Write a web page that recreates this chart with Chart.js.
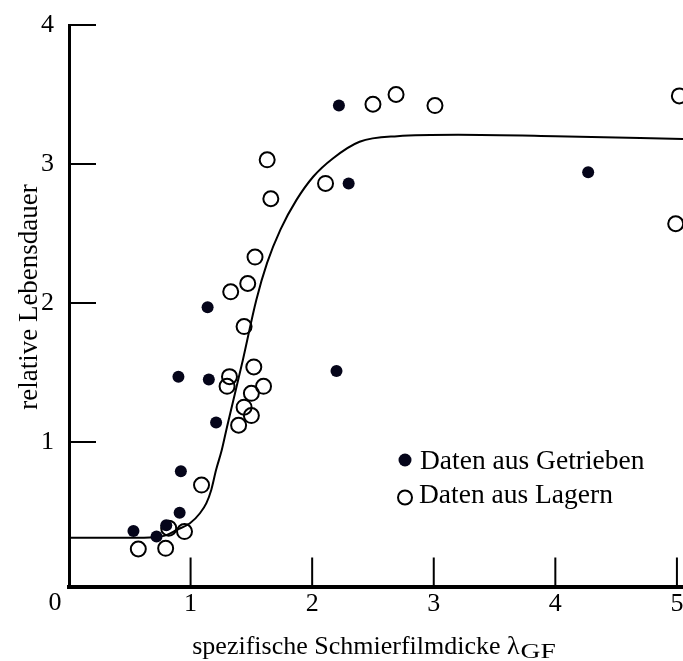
<!DOCTYPE html>
<html>
<head>
<meta charset="utf-8">
<script src="https://cdn.jsdelivr.net/npm/chart.js@4.4.1/dist/chart.umd.min.js"></script>
<style>
  html, body { margin: 0; padding: 0; background: #fff; overflow: hidden; }
  canvas { display: block; }
</style>
</head>
<body>
<canvas id="lebensdauer" width="683" height="661"></canvas>
<script>
Chart.defaults.font.family = "'Liberation Serif', 'Times New Roman', serif";
Chart.defaults.font.size = 26;
Chart.defaults.color = "#000";

// tick values
var xTicks = [1, 2, 3, 4, 5];
var yTicks = [1, 2, 3, 4];

// measured points from gear boxes (filled dots)
var getriebeX = [0.53, 0.72, 0.80, 0.91, 0.92, 0.90, 1.15, 1.14, 1.21, 2.22, 2.30, 2.20, 4.27];
var getriebeY = [0.36, 0.32, 0.40, 0.49, 0.79, 1.47, 1.45, 1.97, 1.14, 3.42, 2.86, 1.51, 2.94];

// measured points from bearings (open circles)
var lagerX = [0.57, 0.795, 0.82, 0.95, 1.09, 1.395, 1.44, 1.50, 1.50, 1.60, 1.30, 1.32, 1.52, 1.44, 1.33, 1.47, 1.53, 1.66, 1.63, 2.11, 2.50, 2.69, 3.01, 5.02, 4.99];
var lagerY = [0.23, 0.235, 0.38, 0.355, 0.69, 1.12, 1.25, 1.19, 1.35, 1.40, 1.40, 1.47, 1.54, 1.83, 2.08, 2.14, 2.33, 2.75, 3.03, 2.86, 3.43, 3.50, 3.42, 3.49, 2.57];

// fitted trend curve
var kurveX = [0, 0.5, 0.7, 0.8, 0.885, 0.995, 1.077, 1.13, 1.17, 1.21, 1.256, 1.30, 1.43, 1.54, 1.63, 1.74, 1.87, 2.01, 2.17, 2.39, 2.7, 3.2, 4.0, 5.05];
var kurveY = [0.31, 0.31, 0.315, 0.33, 0.367, 0.415, 0.487, 0.56, 0.655, 0.80, 0.94, 1.11, 1.59, 2.02, 2.29, 2.53, 2.74, 2.91, 3.04, 3.16, 3.20, 3.21, 3.20, 3.18];

var punktFarbe = "#05051a";

function paare(xs, ys) {
    return xs.map(function (x, i) { return { x: x, y: ys[i] }; });
}

// tick marks pointing into the plot area
var innenStriche = {
    id: "innenStriche",
    afterDraw: function (chart) {
        var ctx = chart.ctx;
        var area = chart.chartArea;
        var sx = chart.scales.x;
        var sy = chart.scales.y;
        ctx.save();
        ctx.strokeStyle = "#000";
        ctx.lineWidth = 2;
        ctx.beginPath();
        xTicks.forEach(function (v) {
            var px = sx.getPixelForValue(v);
            ctx.moveTo(px, area.bottom);
            ctx.lineTo(px, area.bottom - 29);
        });
        yTicks.forEach(function (v) {
            var py = sy.getPixelForValue(v);
            ctx.moveTo(area.left, py);
            ctx.lineTo(area.left + 27, py);
        });
        ctx.stroke();
        ctx.restore();
    }
};

// axis titles, origin label and the inline legend
var beschriftung = {
    id: "beschriftung",
    afterDraw: function (chart) {
        var ctx = chart.ctx;
        var area = chart.chartArea;
        var schrift = "'Liberation Serif', 'Times New Roman', serif";
        ctx.save();
        ctx.fillStyle = "#000";
        ctx.font = "26px " + schrift;
        ctx.textBaseline = "alphabetic";

        ctx.textAlign = "center";
        ctx.fillText("0", area.left - 14, area.bottom + 23);

        ctx.save();
        ctx.font = "27px " + schrift;
        ctx.translate(36.5, 297);
        ctx.rotate(-Math.PI / 2);
        ctx.fillText("relative Lebensdauer", 0, 0);
        ctx.restore();

        // x title with subscript
        var haupt = "spezifische Schmierfilmdicke \u03bb";
        var tief = "GF";
        ctx.textAlign = "left";
        var w1 = ctx.measureText(haupt).width;
        ctx.font = "22px " + schrift;
        var dehnung = 1.25;
        var w2 = ctx.measureText(tief).width * dehnung;
        var x0 = 373.5 - (w1 + w2) / 2;
        ctx.font = "26px " + schrift;
        ctx.fillText(haupt, x0, 654);
        ctx.font = "22px " + schrift;
        ctx.save();
        ctx.translate(x0 + w1 + 1, 658);
        ctx.scale(dehnung, 1);
        ctx.fillText(tief, 0, 0);
        ctx.restore();

        // legend
        var ds = chart.data.datasets;
        ctx.fillStyle = punktFarbe;
        ctx.beginPath();
        ctx.arc(405, 460, 6.5, 0, Math.PI * 2);
        ctx.fill();
        ctx.strokeStyle = "#000";
        ctx.lineWidth = 2;
        ctx.beginPath();
        ctx.arc(405, 497.5, 7, 0, Math.PI * 2);
        ctx.stroke();
        ctx.fillStyle = "#000";
        ctx.font = "27.5px " + schrift;
        ctx.fillText(ds[0].label, 420, 469);
        ctx.fillText(ds[1].label, 419, 503);
        ctx.restore();
    }
};

new Chart(document.getElementById("lebensdauer").getContext("2d"), {
    type: "scatter",
    data: {
        datasets: [{
            label: "Daten aus Getrieben",
            data: paare(getriebeX, getriebeY),
            pointRadius: 6,
            pointBackgroundColor: punktFarbe,
            pointBorderWidth: 0,
            order: 0
        }, {
            label: "Daten aus Lagern",
            data: paare(lagerX, lagerY),
            pointRadius: 7.5,
            pointBackgroundColor: "rgba(0,0,0,0)",
            pointBorderColor: "#000",
            pointBorderWidth: 2,
            order: 1
        }, {
            label: "Trend",
            type: "line",
            data: paare(kurveX, kurveY),
            showLine: true,
            pointRadius: 0,
            borderColor: "#000",
            borderWidth: 2,
            fill: false,
            cubicInterpolationMode: "monotone",
            order: 2
        }]
    },
    options: {
        responsive: false,
        animation: false,
        events: [],
        layout: {
            autoPadding: false,
            padding: { top: 25, right: 0, bottom: 0, left: 0 }
        },
        plugins: {
            legend: { display: false },
            tooltip: { enabled: false }
        },
        scales: {
            x: {
                type: "linear",
                min: 0,
                max: 5.05,
                afterFit: function (s) {
                    s.height = 74.5;
                    s.paddingLeft = 0;
                    s.paddingRight = 0;
                },
                afterBuildTicks: function (s) {
                    s.ticks = xTicks.map(function (v) { return { value: v }; });
                },
                grid: {
                    display: true,
                    drawOnChartArea: false,
                    drawTicks: true,
                    tickLength: 2,
                    tickColor: "rgba(0,0,0,0)"
                },
                border: { display: true, color: "#000", width: 4 },
                ticks: { padding: 0, maxRotation: 0, autoSkip: false }
            },
            y: {
                type: "linear",
                min: -0.04,
                max: 4,
                afterFit: function (s) {
                    s.width = 69;
                    s.paddingTop = 0;
                    s.paddingBottom = 0;
                },
                afterBuildTicks: function (s) {
                    s.ticks = yTicks.map(function (v) { return { value: v }; });
                },
                grid: { display: false },
                border: { display: true, color: "#000", width: 3 },
                ticks: { padding: 7, autoSkip: false }
            }
        }
    },
    plugins: [innenStriche, beschriftung]
});
</script>
</body>
</html>
